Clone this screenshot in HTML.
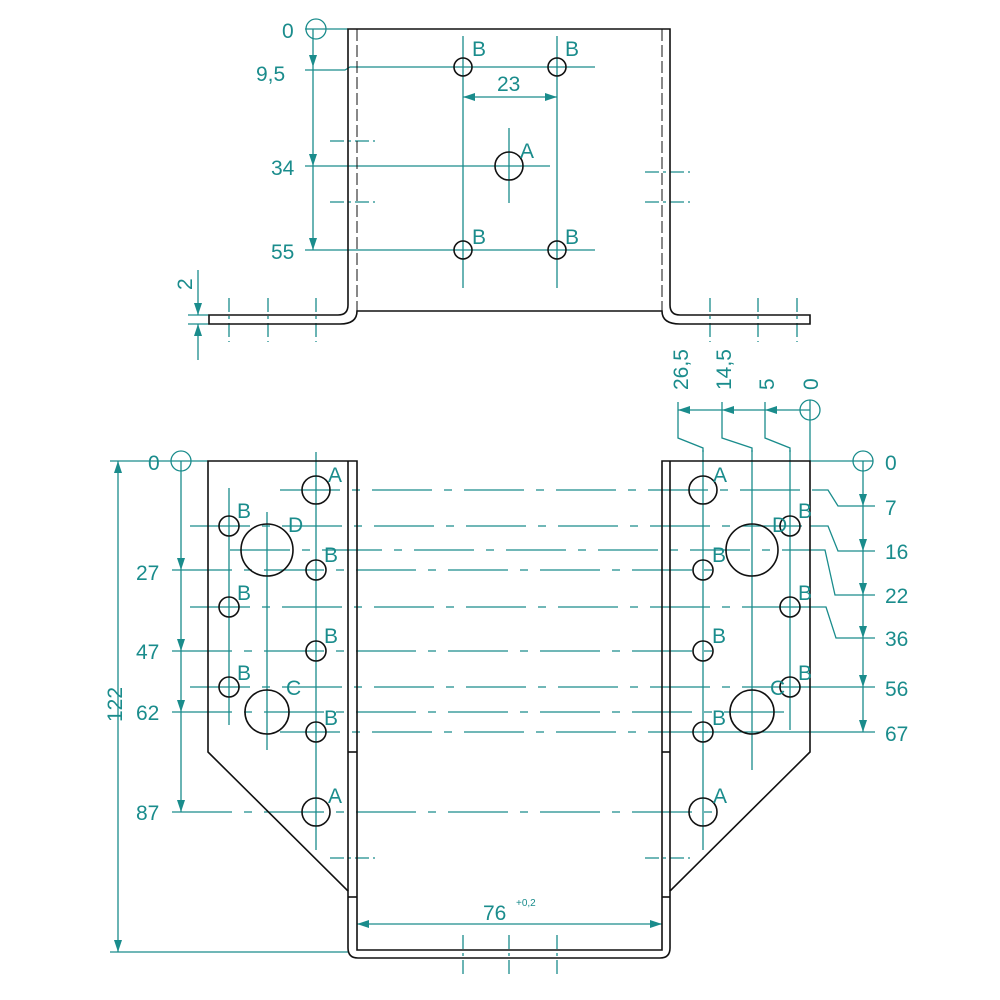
<!DOCTYPE html>
<html><head><meta charset="utf-8"><style>
html,body{margin:0;padding:0;background:#fff;}
svg{display:block}
text{font-family:"Liberation Sans Narrow","Liberation Sans",sans-serif;fill:#1a8c8c;font-size:21px}
</style></head><body>
<svg width="1000" height="1000" viewBox="0 0 1000 1000" xmlns="http://www.w3.org/2000/svg">
<defs>
<marker id="ar" markerWidth="12" markerHeight="8" refX="12" refY="4" orient="auto" markerUnits="userSpaceOnUse"><path d="M0,0 L12,4 L0,8 z" fill="#1a8c8c"/></marker>
</defs>
<g stroke="#1a8c8c" stroke-width="1.3" fill="none">
<!-- TOP VIEW teal -->
<circle cx="316" cy="29" r="10"/>
<line x1="305" y1="29" x2="348" y2="29"/>
<line x1="313" y1="29" x2="313" y2="67" marker-end="url(#ar)"/>
<line x1="313" y1="67" x2="313" y2="166" marker-end="url(#ar)"/>
<line x1="313" y1="166" x2="313" y2="250" marker-end="url(#ar)"/>
<polyline points="305,70 345,70 350,67 595,67"/>
<line x1="305" y1="166" x2="550" y2="166"/>
<line x1="305" y1="250" x2="595" y2="250"/>
<line x1="463" y1="36" x2="463" y2="288"/>
<line x1="557" y1="36" x2="557" y2="288"/>
<line x1="509" y1="128" x2="509" y2="203"/>
<line x1="509" y1="97" x2="463" y2="97" marker-end="url(#ar)"/>
<line x1="509" y1="97" x2="557" y2="97" marker-end="url(#ar)"/>
<line x1="198" y1="270" x2="198" y2="315" marker-end="url(#ar)"/>
<line x1="198" y1="360" x2="198" y2="324" marker-end="url(#ar)"/>
<line x1="188" y1="315" x2="209" y2="315"/><line x1="188" y1="324" x2="209" y2="324"/>
<g stroke-dasharray="14,4,3,4">
<line x1="330" y1="141" x2="375" y2="141"/><line x1="330" y1="202" x2="375" y2="202"/>
<line x1="645" y1="172" x2="690" y2="172"/><line x1="645" y1="202" x2="690" y2="202"/>
<line x1="229" y1="298" x2="229" y2="342"/><line x1="268" y1="298" x2="268" y2="342"/><line x1="316" y1="298" x2="316" y2="342"/>
<line x1="710" y1="298" x2="710" y2="342"/><line x1="758" y1="298" x2="758" y2="342"/><line x1="797" y1="298" x2="797" y2="342"/>
</g>
<!-- BOTTOM VIEW teal -->
<circle cx="181" cy="461" r="10"/>
<line x1="110" y1="461" x2="208" y2="461"/>
<line x1="110" y1="952" x2="348" y2="952"/>
<line x1="118" y1="700" x2="118" y2="461" marker-end="url(#ar)"/>
<line x1="118" y1="700" x2="118" y2="952" marker-end="url(#ar)"/>
<line x1="181" y1="461" x2="181" y2="570" marker-end="url(#ar)"/>
<line x1="181" y1="570" x2="181" y2="651" marker-end="url(#ar)"/>
<line x1="181" y1="651" x2="181" y2="712" marker-end="url(#ar)"/>
<line x1="181" y1="712" x2="181" y2="812" marker-end="url(#ar)"/>
<line x1="316" y1="452" x2="316" y2="850"/>
<line x1="229" y1="488" x2="229" y2="725"/>
<line x1="267" y1="512" x2="267" y2="750"/>
<line x1="703" y1="450" x2="703" y2="850"/>
<line x1="790" y1="450" x2="790" y2="730"/>
<line x1="752" y1="450" x2="752" y2="770"/>
<line x1="810" y1="400" x2="810" y2="461"/>
<circle cx="810" cy="410" r="10"/>
<line x1="810" y1="410" x2="765" y2="410" marker-end="url(#ar)"/>
<line x1="765" y1="410" x2="722" y2="410" marker-end="url(#ar)"/>
<line x1="722" y1="410" x2="678" y2="410" marker-end="url(#ar)"/>
<polyline points="678,402 678,438 703,448 703,452"/>
<polyline points="722,402 722,438 752,448 752,452"/>
<polyline points="765,402 765,438 790,448 790,452"/>
<circle cx="863" cy="461" r="10"/>
<line x1="810" y1="461" x2="873" y2="461"/>
<line x1="863" y1="461" x2="863" y2="506" marker-end="url(#ar)"/>
<line x1="863" y1="506" x2="863" y2="551" marker-end="url(#ar)"/>
<line x1="863" y1="551" x2="863" y2="595" marker-end="url(#ar)"/>
<line x1="863" y1="595" x2="863" y2="638" marker-end="url(#ar)"/>
<line x1="863" y1="638" x2="863" y2="687" marker-end="url(#ar)"/>
<line x1="863" y1="687" x2="863" y2="732" marker-end="url(#ar)"/>
<polyline points="820,490 828,490 838,506 875,506"/>
<polyline points="810,526 828,526 838,551 875,551"/>
<polyline points="790,550 825,550 835,595 875,595"/>
<polyline points="790,607 826,607 836,638 875,638"/>
<line x1="790" y1="687" x2="875" y2="687"/>
<line x1="703" y1="732" x2="875" y2="732"/>
<g stroke-dasharray="60,12,8,12">
<line x1="172" y1="812" x2="720" y2="812"/>
<line x1="172" y1="570" x2="720" y2="570"/>
<line x1="172" y1="651" x2="720" y2="651"/>
<line x1="172" y1="712" x2="790" y2="712"/>
<line x1="280" y1="490" x2="820" y2="490"/>
<line x1="190" y1="526" x2="810" y2="526"/>
<line x1="230" y1="550" x2="790" y2="550"/>
<line x1="190" y1="607" x2="790" y2="607"/>
<line x1="190" y1="687" x2="790" y2="687"/>
<line x1="280" y1="732" x2="720" y2="732"/>
</g>
<line x1="509" y1="924" x2="357" y2="924" marker-end="url(#ar)"/>
<line x1="509" y1="924" x2="662" y2="924" marker-end="url(#ar)"/>
<g stroke-dasharray="14,4,3,4">
<line x1="463" y1="935" x2="463" y2="978"/><line x1="509" y1="935" x2="509" y2="978"/><line x1="557" y1="935" x2="557" y2="978"/>
<line x1="330" y1="858" x2="375" y2="858"/><line x1="645" y1="858" x2="690" y2="858"/>
</g>
</g>
<g stroke="#111" stroke-width="1.6" fill="none">
<!-- top view -->
<path d="M348,29 H670 V305 Q670,315 680,315 H810 V324 H680 Q662,324 662,311 H357 Q357,324 340,324 H209 V315 H338 Q348,315 348,305 Z"/>
<g stroke-width="1" stroke-dasharray="12,4"><line x1="357" y1="29" x2="357" y2="311"/><line x1="662" y1="29" x2="662" y2="311"/></g>
<circle cx="463" cy="67" r="9"/><circle cx="557" cy="67" r="9"/><circle cx="463" cy="250" r="9"/><circle cx="557" cy="250" r="9"/>
<circle cx="509" cy="166" r="14"/>
<!-- bottom view -->
<path d="M208,461 H357 V950 H662 V461 H810 V752 L670,891 V948 Q670,958 660,958 H358 Q348,958 348,948 V891 L208,752 Z"/>
<line x1="348" y1="461" x2="348" y2="891"/><line x1="670" y1="461" x2="670" y2="891"/>
<line x1="348" y1="752" x2="357" y2="752"/><line x1="662" y1="752" x2="670" y2="752"/>
<line x1="348" y1="897" x2="357" y2="897"/><line x1="662" y1="897" x2="670" y2="897"/>
<circle cx="316" cy="490" r="14"/><circle cx="316" cy="812" r="14"/>
<circle cx="703" cy="490" r="14"/><circle cx="703" cy="812" r="14"/>
<circle cx="267" cy="550" r="26"/><circle cx="752" cy="550" r="26"/>
<circle cx="267" cy="712" r="22"/><circle cx="752" cy="712" r="22"/>
<circle cx="229" cy="526" r="10"/><circle cx="229" cy="607" r="10"/><circle cx="229" cy="687" r="10"/>
<circle cx="316" cy="570" r="10"/><circle cx="316" cy="651" r="10"/><circle cx="316" cy="732" r="10"/>
<circle cx="790" cy="526" r="10"/><circle cx="790" cy="607" r="10"/><circle cx="790" cy="687" r="10"/>
<circle cx="703" cy="570" r="10"/><circle cx="703" cy="651" r="10"/><circle cx="703" cy="732" r="10"/>
</g>
<!-- labels -->
<text x="282" y="38">0</text><text x="256" y="81">9,5</text><text x="271" y="175">34</text><text x="271" y="259">55</text>
<text x="472" y="56">B</text><text x="565" y="56">B</text><text x="472" y="244">B</text><text x="565" y="244">B</text>
<text x="520" y="158">A</text><text x="497" y="91">23</text>
<text transform="translate(192,290) rotate(-90)">2</text>
<text x="148" y="470">0</text><text x="136" y="580">27</text><text x="136" y="659">47</text><text x="136" y="720">62</text><text x="136" y="820">87</text>
<text transform="translate(122,722) rotate(-90)">122</text>
<text x="328" y="482">A</text><text x="328" y="803">A</text><text x="713" y="482">A</text><text x="713" y="803">A</text>
<text x="237" y="518">B</text><text x="237" y="600">B</text><text x="237" y="680">B</text>
<text x="324" y="562">B</text><text x="324" y="643">B</text><text x="324" y="725">B</text>
<text x="712" y="562">B</text><text x="712" y="643">B</text><text x="712" y="725">B</text>
<text x="798" y="518">B</text><text x="798" y="600">B</text><text x="798" y="680">B</text>
<text x="288" y="532">D</text><text x="772" y="532">D</text>
<text x="286" y="695">C</text><text x="770" y="695">C</text>
<text x="885" y="470">0</text><text x="885" y="515">7</text><text x="885" y="559">16</text><text x="885" y="603">22</text><text x="885" y="646">36</text><text x="885" y="696">56</text><text x="885" y="741">67</text>
<text transform="translate(688,390) rotate(-90)">26,5</text>
<text transform="translate(731,390) rotate(-90)">14,5</text>
<text transform="translate(774,390) rotate(-90)">5</text>
<text transform="translate(818,390) rotate(-90)">0</text>
<text x="483" y="920">76</text><text x="516" y="906" style="font-size:10px">+0,2</text>
</svg>
</body></html>
